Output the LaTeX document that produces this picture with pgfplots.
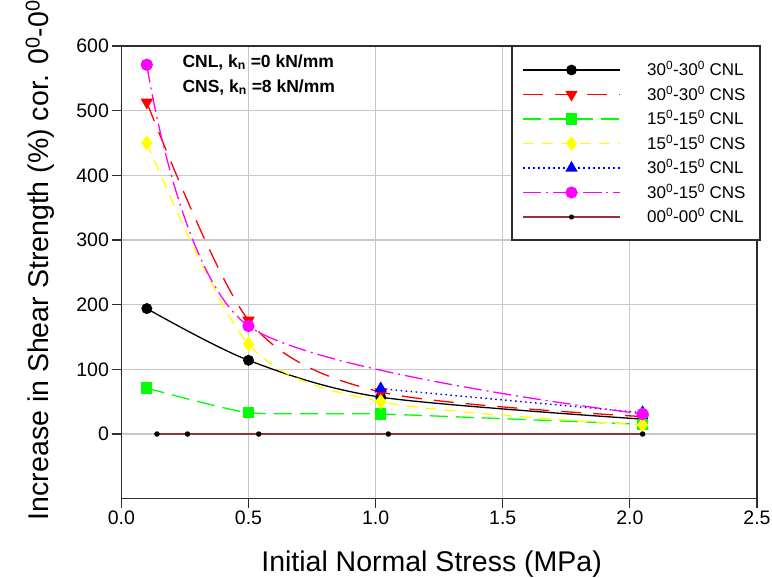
\documentclass[border=0pt]{standalone}
\usepackage{pgfplots}
\pgfplotsset{compat=1.18}
\usepackage{fontspec}
\setmainfont{Liberation Sans}

\definecolor{gridgray}{RGB}{200,200,200}
\definecolor{axisgray}{RGB}{45,45,45}
\definecolor{brownline}{RGB}{153,51,51}
\definecolor{pred}{RGB}{255,0,0}
\definecolor{pgreen}{RGB}{0,255,0}
\definecolor{pyellow}{RGB}{255,255,0}
\definecolor{pblue}{RGB}{0,0,255}
\definecolor{pmagenta}{RGB}{255,0,255}

% one style per series, shared by the chart and the key
\pgfplotsset{
  sA/.style={color=black, line width=1.3bp, smooth, tension=0.5,
    mark=*, mark size=4.8bp, mark options={solid, fill=black}},
  sB/.style={color=pred, line width=1.3bp, smooth, tension=0.5, dash pattern=on 20bp off 12bp,
    mark=triangle*, mark size=6bp, mark options={solid, fill=pred, rotate=180}},
  sC/.style={color=pgreen, line width=1.3bp, smooth, tension=0.3, dash pattern=on 18bp off 8bp,
    mark=square*, mark size=5bp, mark options={solid, fill=pgreen}},
  sD/.style={color=pyellow, line width=1.3bp, smooth, tension=0.5, dash pattern=on 11bp off 8bp,
    mark=diamond*, mark size=6.5bp, mark options={solid, fill=pyellow}},
  sE/.style={color=pblue, line width=1.4bp, dash pattern=on 1.5bp off 3.5bp,
    mark=triangle*, mark size=6bp, mark options={solid, fill=pblue}},
  sF/.style={color=pmagenta, line width=1.3bp, smooth, tension=0.5,
    dash pattern=on 18bp off 5bp on 2bp off 5bp,
    mark=*, mark size=5.5bp, mark options={solid, fill=pmagenta}},
  sG/.style={color=brownline, line width=1.4bp,
    mark=*, mark size=2bp, mark options={solid, fill=black, draw=black}},
  keyline/.style={mark indices={2}, line width=1.1bp},
}
\tikzset{keytext/.style={anchor=base west, inner sep=0pt, font=\fontsize{17bp}{20bp}\selectfont}}

\begin{document}
\begin{tikzpicture}
\useasboundingbox (0,0) rectangle (772bp,578bp);
\begin{axis}[
  at={(121.4bp,79.3bp)}, anchor=south west,
  scale only axis, width=635.6bp, height=452.7bp,
  xmin=0, xmax=2.5, ymin=-100, ymax=600,
  xtick={0,0.5,1,1.5,2,2.5}, ytick={0,100,200,300,400,500,600},
  xtick pos=bottom, ytick pos=left, tick align=outside,
  major tick length=9bp,
  tick style={axisgray, line width=1.2bp},
  axis line style={axisgray, line width=1.3bp},
  grid=major, major grid style={gridgray, line width=1.2bp},
  /pgf/number format/assume math mode=true,
  xticklabel style={/pgf/number format/.cd, fixed, fixed zerofill, precision=1},
  ticklabel style={font=\fontsize{19.5bp}{22bp}\selectfont},
  xlabel={Initial Normal Stress (MPa)},
  ylabel={Increase in Shear Strength (\%) cor. 0\textsuperscript{0}-0\textsuperscript{0}},
  label style={font=\fontsize{28.5bp}{32bp}\selectfont},
  xlabel style={at={(axis description cs:0.488,-0.161)}, anchor=base},
  ylabel style={at={(axis description cs:-0.128,0.527)}, anchor=center},
]
% 30-30 CNL
\addplot[sA] coordinates {(0.1,194) (0.5,114) (1.02,57) (2.05,23)};
% 30-30 CNS
\addplot[sB] coordinates {(0.1,513) (0.5,176) (1.02,65) (2.05,27)};
% 15-15 CNL
\addplot[sC] coordinates {(0.1,71) (0.5,33) (1.02,31) (2.05,15)};
% 15-15 CNS
\addplot[sD] coordinates {(0.1,450) (0.5,139) (1.02,50) (2.05,14)};
% 30-15 CNL
\addplot[sE] coordinates {(1.02,70) (2.05,33)};
% 30-15 CNS
\addplot[sF] coordinates {(0.1,571) (0.5,167) (2.05,31)};
% 00-00 CNL reference line
\addplot[sG] coordinates {(0.14,0) (0.26,0) (0.54,0) (1.05,0) (2.05,0)};

\node[anchor=base west, font=\fontsize{17.5bp}{21bp}\selectfont\bfseries]
  at (rel axis cs:0.0906,0.9536) {CNL, k\textsubscript{n} =0 kN/mm};
\node[anchor=base west, font=\fontsize{17.5bp}{21bp}\selectfont\bfseries]
  at (rel axis cs:0.0906,0.898) {CNS, k\textsubscript{n} =8 kN/mm};
\end{axis}

% key, drawn as a small boxed axis of its own
\begin{axis}[
  at={(512bp,338bp)}, anchor=south west,
  scale only axis, width=248bp, height=194bp,
  xmin=0, xmax=248, ymin=0, ymax=194,
  xtick=\empty, ytick=\empty, clip=false,
  axis line style={axisgray, line width=1.2bp},
  axis background/.style={fill=white},
]
\addplot[sA, keyline] coordinates {(11,170) (59.5,170) (108,170)};
\addplot[sB, keyline] coordinates {(11,145.5) (59.5,145.5) (108,145.5)};
\addplot[sC, keyline] coordinates {(11,121) (59.5,121) (108,121)};
\addplot[sD, keyline] coordinates {(11,96.5) (59.5,96.5) (108,96.5)};
\addplot[sE, keyline] coordinates {(11,72) (59.5,72) (108,72)};
\addplot[sF, keyline] coordinates {(11,47.5) (59.5,47.5) (108,47.5)};
\addplot[sG, keyline] coordinates {(11,23) (59.5,23) (108,23)};
\node[keytext] at (axis cs:135,164) {30\textsuperscript{0}-30\textsuperscript{0} CNL};
\node[keytext] at (axis cs:135,139.5) {30\textsuperscript{0}-30\textsuperscript{0} CNS};
\node[keytext] at (axis cs:135,115) {15\textsuperscript{0}-15\textsuperscript{0} CNL};
\node[keytext] at (axis cs:135,90.5) {15\textsuperscript{0}-15\textsuperscript{0} CNS};
\node[keytext] at (axis cs:135,66) {30\textsuperscript{0}-15\textsuperscript{0} CNL};
\node[keytext] at (axis cs:135,41.5) {30\textsuperscript{0}-15\textsuperscript{0} CNS};
\node[keytext] at (axis cs:135,17) {00\textsuperscript{0}-00\textsuperscript{0} CNL};
\end{axis}
\end{tikzpicture}
\end{document}
